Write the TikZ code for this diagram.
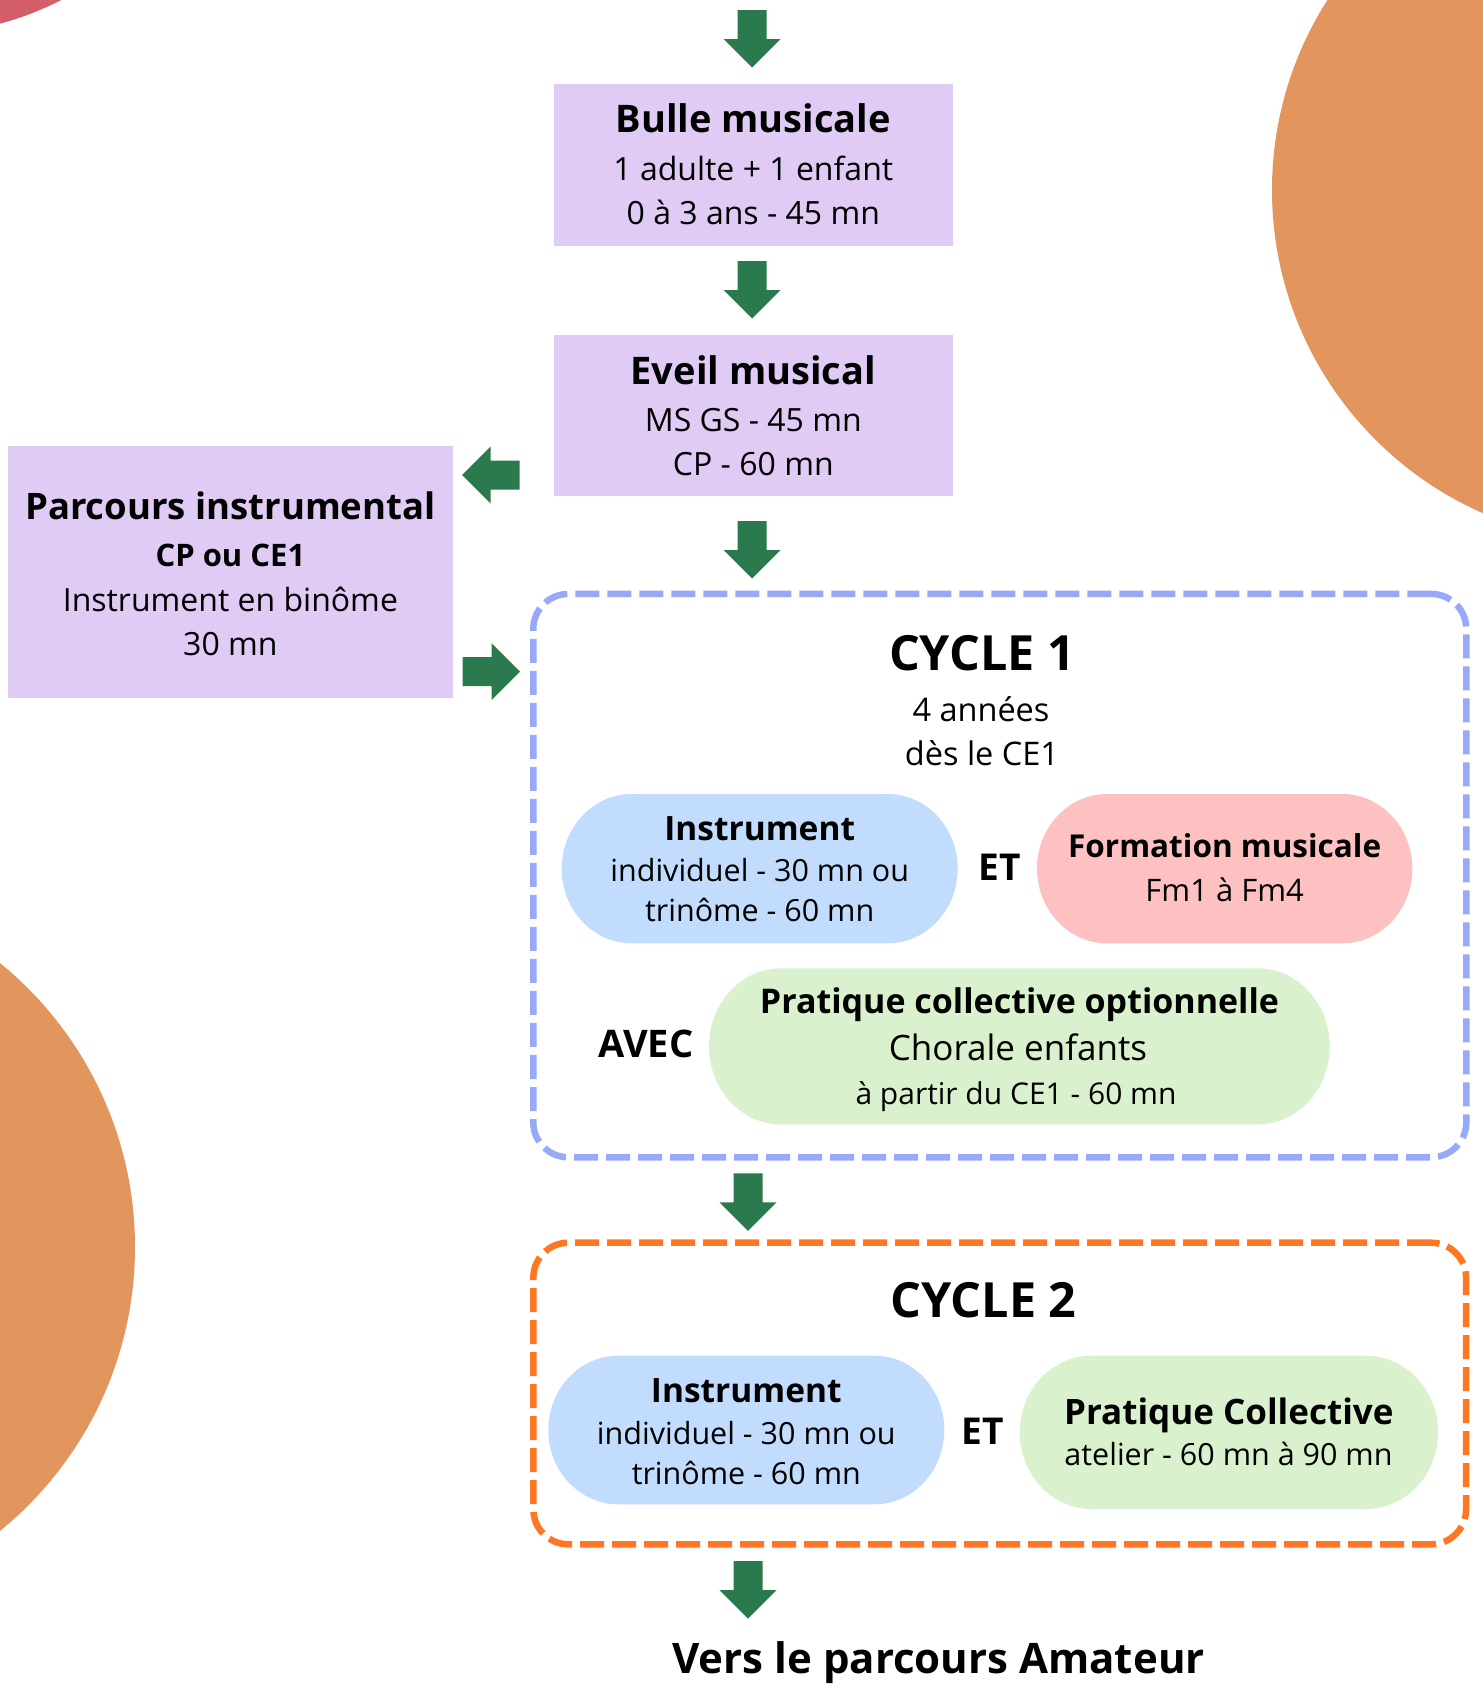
\documentclass[tikz,border=0pt]{standalone}
\usepackage{fontspec}
\setmainfont{Open Sans}
\definecolor{lilac}{HTML}{E0CBF5}
\definecolor{agreen}{HTML}{2B7A4D}
\definecolor{bblue}{HTML}{C2DCFE}
\definecolor{bpink}{HTML}{FDC1C1}
\definecolor{bgreen}{HTML}{D9F2CD}
\definecolor{dblue}{HTML}{99A9FA}
\definecolor{dorange}{HTML}{FF7722}
\definecolor{corange}{HTML}{E3955E}
\definecolor{cpink}{HTML}{D45F68}
\newcommand{\fs}[1]{\fontsize{#1}{#1}\selectfont}
\newcommand{\blob}[6]{%
 \fill[#6] ({#1+#5},#2) -- ({#3-#5},#2)
   .. controls ({#3-#5+0.5523*#5},#2) and (#3,{(#2+#4)/2-0.5523*(#4-#2)/2}) .. (#3,{(#2+#4)/2})
   .. controls (#3,{(#2+#4)/2+0.5523*(#4-#2)/2}) and ({#3-#5+0.5523*#5},#4) .. ({#3-#5},#4)
   -- ({#1+#5},#4)
   .. controls ({#1+#5-0.5523*#5},#4) and (#1,{(#2+#4)/2+0.5523*(#4-#2)/2}) .. (#1,{(#2+#4)/2})
   .. controls (#1,{(#2+#4)/2-0.5523*(#4-#2)/2}) and ({#1+#5-0.5523*#5},#2) .. ({#1+#5},#2) -- cycle;}
\tikzset{
 box/.style={fill=lilac, inner sep=0pt, draw=none, rectangle},
 lbl/.style={anchor=base, inner sep=0pt, text=black},
 barrow/.pic={\fill[agreen] (0,-14.5) -- (29,-14.5) -- (29,-28.5) -- (57.5,0) -- (29,28.5) -- (29,14.5) -- (0,14.5) -- cycle;},
 cyc/.style={line width=6.5pt, dash pattern=on 24pt off 8pt, rounded corners=35pt, rectangle, inner sep=0pt, fill=none},
}
\begin{document}
\begin{tikzpicture}[x=1pt,y=-1pt]
\useasboundingbox (0,0) rectangle (1483,1684);
\fill[white] (0,0) rectangle (1483,1684);
% decorative circles
\begin{scope}
\clip (0,0) rectangle (1483,1684);
\fill[cpink] (-85,-288) circle[radius=323];
\fill[corange] (1625,190) circle[radius=353];
\fill[corange] (-231,1247) circle[radius=366];
\end{scope}
% boxes
\node[box, minimum width=398.7pt, minimum height=162pt] (bulle) at (753.3,164.7) {};
\node[box, minimum width=398.7pt, minimum height=161pt] (eveil) at (753.3,415.5) {};
\node[box, minimum width=445pt, minimum height=252.3pt] (parcours) at (230.4,572.2) {};
\node[cyc, draw=dblue, minimum width=933pt, minimum height=563.3pt] (cycleone) at (999.8,875.6) {};
\node[cyc, draw=dorange, minimum width=932.7pt, minimum height=301.6pt] (cycletwo) at (999.7,1393.5) {};
% arrows
\pic[rotate=-90] at (752.2,10) {barrow};
\pic[rotate=-90] at (752.2,261) {barrow};
\pic[rotate=-90] at (752.2,521) {barrow};
\pic[rotate=180] at (519.6,475) {barrow};
\pic at (462.5,671.7) {barrow};
\pic[rotate=-90] at (748,1173.3) {barrow};
\pic[rotate=-90] at (748,1561) {barrow};
% blobs
\blob{561.7}{794}{957.7}{943.3}{70}{bblue}
\blob{1037}{794}{1412.3}{943.3}{70}{bpink}
\blob{709}{968.3}{1329.7}{1124.4}{72}{bgreen}
\blob{548.3}{1355.7}{944.3}{1504.3}{70}{bblue}
\blob{1019.7}{1355.7}{1438}{1509}{72}{bgreen}
% texts
\node[lbl, font=\bfseries\fs{38}] (bulleT) at (753.3,132.7) {Bulle musicale};
\node[lbl, font=\fs{32}] (bulleA) at (753.3,180) {1 adulte + 1 enfant};
\node[lbl, font=\fs{32}] (bulleB) at (753.3,224) {0 à 3 ans - 45 mn};
\node[lbl, font=\bfseries\fs{38}] (eveilT) at (753.3,384) {Eveil musical};
\node[lbl, font=\fs{32}] (eveilA) at (753.3,431.3) {MS GS - 45 mn};
\node[lbl, font=\fs{32}] (eveilB) at (753.3,475.3) {CP - 60 mn};
\node[lbl, font=\bfseries\fs{36.5}] (parcT) at (230.4,519) {Parcours instrumental};
\node[lbl, font=\bfseries\fs{31}] (parcA) at (230.4,566.7) {CP ou CE1};
\node[lbl, font=\fs{32}] (parcB) at (230.4,611) {Instrument en binôme};
\node[lbl, font=\fs{32}] (parcC) at (230.4,655) {30 mn};
\node[lbl, font=\bfseries\fs{48.5}] (c1T) at (982,670.7) {CYCLE 1};
\node[lbl, font=\fs{32.5}] (c1A) at (981,721.7) {4 années};
\node[lbl, font=\fs{32.5}] (c1B) at (982,765) {dès le CE1};
\node[lbl, font=\bfseries\fs{33.5}] (i1T) at (759.7,840) {Instrument};
\node[lbl, font=\fs{30.5}] (i1A) at (759.7,881.7) {individuel - 30 mn ou};
\node[lbl, font=\fs{30.5}] (i1B) at (759.7,921.7) {trinôme - 60 mn};
\node[lbl, font=\bfseries\fs{37}] (et1) at (1000,880.7) {ET};
\node[lbl, font=\bfseries\fs{31.5}] (fmT) at (1224.7,857.7) {Formation musicale};
\node[lbl, font=\fs{31}] (fmA) at (1224.7,901.7) {Fm1 à Fm4};
\node[lbl, font=\bfseries\fs{38}] (avec) at (646,1057.7) {AVEC};
\node[lbl, font=\bfseries\fs{34}] (p1T) at (1019.5,1013.3) {Pratique collective optionnelle};
\node[lbl, font=\fs{35}] (p1A) at (1018,1060.7) {Chorale enfants};
\node[lbl, font=\fs{30}] (p1B) at (1016,1104) {à partir du CE1 - 60 mn};
\node[lbl, font=\bfseries\fs{48.5}] (c2T) at (983.7,1317.7) {CYCLE 2};
\node[lbl, font=\bfseries\fs{33.5}] (i2T) at (746.3,1402.3) {Instrument};
\node[lbl, font=\fs{30.5}] (i2A) at (746.3,1444) {individuel - 30 mn ou};
\node[lbl, font=\fs{30.5}] (i2B) at (746.3,1484) {trinôme - 60 mn};
\node[lbl, font=\bfseries\fs{37}] (et2) at (982.7,1444) {ET};
\node[lbl, font=\bfseries\fs{35}] (p2T) at (1228.8,1424) {Pratique Collective};
\node[lbl, font=\fs{30.5}] (p2A) at (1228.5,1465) {atelier - 60 mn à 90 mn};
\node[lbl, font=\bfseries\fs{42}] (vers) at (938.6,1673) {Vers le parcours Amateur};
\end{tikzpicture}
\end{document}
